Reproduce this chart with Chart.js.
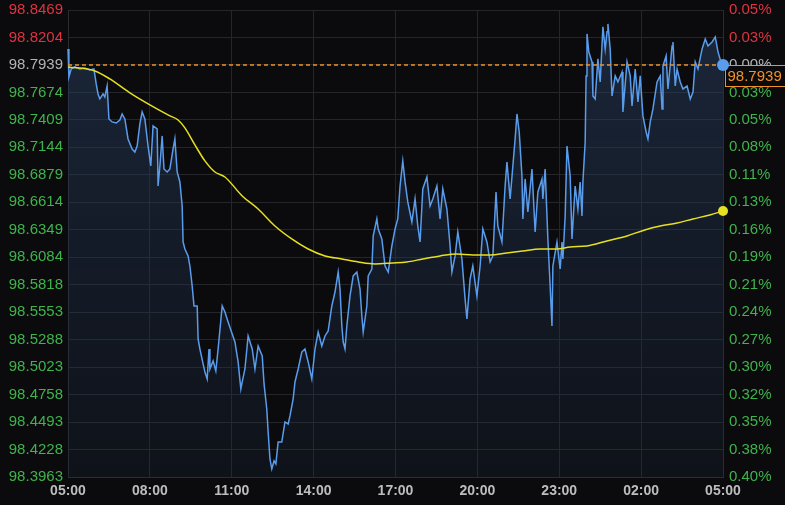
<!DOCTYPE html>
<html>
<head>
<meta charset="utf-8">
<script src="https://cdn.jsdelivr.net/npm/chart.js@4.4.1/dist/chart.umd.min.js"></script>
<style>
  html, body { margin: 0; padding: 0; background: #0b0b0d; }
  #wrap { width: 785px; height: 505px; }
</style>
</head>
<body>
<div id="wrap"><canvas id="chart" width="785" height="505"></canvas></div>
<script>
const REF_PRICE = 98.7939;

const Y_TICKS = [98.8469, 98.8204, 98.7939, 98.7674, 98.7409, 98.7144, 98.6879, 98.6614, 98.6349,
  98.6084, 98.5818, 98.5553, 98.5288, 98.5023, 98.4758, 98.4493, 98.4228, 98.3963];
const PCT_LABELS = ["0.05%", "0.03%", "0.00%", "0.03%", "0.05%", "0.08%", "0.11%", "0.13%", "0.16%",
  "0.19%", "0.21%", "0.24%", "0.27%", "0.30%", "0.32%", "0.35%", "0.38%", "0.40%"];

// minutes after 05:00
const X_TICKS = [0, 180, 360, 540, 720, 900, 1080, 1260, 1440];
const X_LABELS = ["05:00", "08:00", "11:00", "14:00", "17:00", "20:00", "23:00", "02:00", "05:00"];

const PRICE_MIN = [0,2,7,15,26,37,48,57,62,66,70,77,81,86,90,97,106,114,119,125,132,141,147,152,158,163,169,176,182,187,
  196,198,202,207,211,218,224,231,235,240,246,251,253,257,264,268,273,277,284,286,290,297,301,306,310,312,319,325,330,339,345,
  352,361,367,374,380,383,389,396,405,411,418,427,431,437,440,444,448,453,457,462,470,477,484,488,495,499,506,514,521,528,
  536,543,550,558,565,572,580,587,594,598,602,605,609,613,620,627,635,642,646,649,657,660,668,671,679,682,690,697,704,712,719,725,
  730,736,741,747,756,763,769,774,780,789,796,802,811,818,824,833,840,844,851,857,866,873,877,884,890,899,906,912,921,928,
  934,941,945,954,961,965,972,978,983,987,992,998,1000,1005,1011,1020,1027,1033,1042,1044,1049,1055,1060,1064,1066,1075,1082,1086,1088,1093,1097,1104,
  1108,1115,1121,1126,1130,1132,1137,1139,1141,1145,1152,1154,1159,1165,1170,1176,1181,1185,1187,1192,
  1196,1203,1209,1218,1220,1229,1236,1240,1247,1253,1258,1264,1271,1275,1280,1286,1295,1302,1306,1308,
  1315,1319,1328,1330,1335,1339,1346,1352,1361,1368,1374,1379,1385,1394,1401,1407,1416,1423,1429,1438,1440];

const PRICE = [
  98.8093,98.7823,98.7900,98.7920,98.7900,98.7910,98.7891,98.7900,98.7756,98.7659,
  98.7611,98.7659,98.7630,98.7736,98.7418,98.7389,98.7379,98.7408,98.7466,98.7418,
  98.7225,98.7128,98.7099,98.7157,98.7370,98.7485,98.7418,98.7157,98.6964,98.7350,
  98.7321,98.6771,98.6964,98.7254,98.6935,98.6906,98.6935,98.7128,98.7225,98.6906,
  98.6810,98.6578,98.6231,98.6163,98.6096,98.5999,98.5806,98.5613,98.5613,98.5295,
  98.5198,98.5054,98.4976,98.4909,98.5198,98.5005,98.5083,98.4986,98.5198,98.5613,98.5555,
  98.5459,98.5343,98.5266,98.5073,98.4812,98.4880,98.5005,98.5324,98.5198,98.5005,
  98.5227,98.5131,98.4861,98.4619,98.4397,98.4137,98.4040,98.4118,98.4089,98.4301,
  98.4301,98.4494,98.4475,98.4552,98.4716,98.4880,98.5005,98.5169,98.5198,98.5073,
  98.4909,98.5198,98.5362,98.5227,98.5324,98.5372,98.5613,98.5748,98.5941,98.5777,
  98.5420,98.5266,98.5198,98.5420,98.5710,98.5903,98.5941,98.5777,98.5517,98.5362,
  98.5613,98.5903,98.5970,98.6289,98.6453,98.6356,98.6260,98.5999,98.5941,98.6192,98.6356,98.6453,
  98.6771,98.7013,98.6810,98.6617,98.6424,98.6646,98.6385,98.6231,98.6742,98.6858,
  98.6578,98.6646,98.6771,98.6453,98.6742,98.6549,98.6192,98.5941,98.6096,98.6327,
  98.6067,98.5681,98.5488,98.5874,98.5999,98.5710,98.5999,98.6356,98.6231,98.6038,
  98.6096,98.6713,98.6385,98.6231,98.6771,98.7003,98.6646,98.6964,98.7225,98.7466,
  98.7292,98.6868,98.6453,98.6839,98.6520,98.6935,98.6327,98.6713,98.6839,98.6646,
  98.6935,98.6260,98.5806,98.5420,98.5999,98.6231,98.5970,98.6231,98.6067,98.6482,98.7157,98.6868,
  98.6260,98.6771,98.6549,98.6810,98.6482,98.6810,98.7196,98.7833,98.8238,98.8065,
  98.7968,98.7640,98.7611,98.7997,98.7775,98.8306,98.8093,98.8258,98.8335,98.8093,
  98.7640,98.7833,98.7775,98.7871,98.7485,98.7968,98.7833,98.7543,98.7900,98.7582,
  98.7833,98.7447,98.7292,98.7225,98.7389,98.7514,98.7775,98.7833,98.7514,98.7929,
  98.8026,98.7707,98.8122,98.8161,98.7736,98.7900,98.7775,98.7707,98.7736,98.7611,
  98.7678,98.7968,98.7900,98.8093,98.8190,98.8122,98.8161,98.8209,98.8065,98.7929,98.7939];

const AVG_MIN = [0,59,92,136,180,224,242,257,279,301,323,345,383,418,455,492,528,565,602,638,
  675,712,745,780,818,855,890,928,965,1000,1038,1075,1104,1141,1185,1229,1268,1302,1339,1374,1411,1440];
const AVG = [98.7920,98.7881,98.7804,98.7669,98.7553,98.7447,98.7408,98.7331,98.7167,98.7013,
  98.6906,98.6858,98.6675,98.6549,98.6385,98.6260,98.6163,98.6096,98.6067,98.6038,
  98.6019,98.6028,98.6038,98.6067,98.6096,98.6115,98.6106,98.6106,98.6125,98.6144,
  98.6163,98.6163,98.6183,98.6192,98.6241,98.6289,98.6347,98.6385,98.6414,98.6453,98.6491,98.6530];

const FONT = "'Liberation Sans', Arial, sans-serif";
const BLUE = "#5a9cec";
const YELLOW = "#e6e022";
const ORANGE = "#f0922a";
const RED = "#df3340";
const GREEN = "#3fb34c";
const GREY = "#b4b4b4";
const GRID = "#252629";

function tickColor(v) {
  if (Math.abs(v - REF_PRICE) < 1e-6) return GREY;
  return v > REF_PRICE ? RED : GREEN;
}

const sortedTicks = Y_TICKS.slice().sort((a, b) => a - b);
const setYTicks = s => { s.ticks = sortedTicks.map(v => ({ value: v })); };
const fitY = w => s => { s.width = w; s.paddingTop = 0; s.paddingBottom = 0; };

// dashed reference line + price box
const refLine = {
  id: "refLine",
  beforeDatasetsDraw(chart) {
    const { ctx, chartArea, scales } = chart;
    const y = Math.round(scales.y.getPixelForValue(REF_PRICE)) + 0.5;
    ctx.save();
    const bx = Math.round(chartArea.right) + 2.5;
    ctx.strokeStyle = ORANGE;
    ctx.lineWidth = 1;
    ctx.fillStyle = "#0b0b0d";
    ctx.fillRect(bx, y, 70, 21);
    ctx.strokeRect(bx, y, 70, 21);
    ctx.fillStyle = ORANGE;
    ctx.font = "15px " + FONT;
    ctx.textBaseline = "middle";
    ctx.textAlign = "left";
    ctx.fillText(REF_PRICE.toFixed(4), bx + 2, y + 11);
    ctx.restore();
  },
  afterDatasetsDraw(chart) {
    const { ctx, chartArea, scales } = chart;
    const y = Math.round(scales.y.getPixelForValue(REF_PRICE));
    ctx.save();
    ctx.strokeStyle = ORANGE;
    ctx.lineWidth = 1.4;
    ctx.setLineDash([4, 3]);
    ctx.beginPath();
    ctx.moveTo(chartArea.left, y);
    ctx.lineTo(chartArea.right - 6, y);
    ctx.stroke();
    ctx.restore();
  }
};

new Chart(document.getElementById("chart"), {
  type: "line",
  data: {
    datasets: [
      {
        label: "avg",
        data: AVG_MIN.map((m, i) => ({ x: m, y: AVG[i] })),
        borderColor: YELLOW,
        borderWidth: 1.5,
        cubicInterpolationMode: "monotone",
        fill: false,
        clip: false,
        pointRadius: c => c.dataIndex === AVG.length - 1 ? 5 : 0,
        pointBackgroundColor: YELLOW,
        pointBorderWidth: 0,
        pointHoverRadius: 0,
      },
      {
        label: "price",
        data: PRICE_MIN.map((m, i) => ({ x: m, y: PRICE[i] })),
        borderColor: BLUE,
        borderWidth: 1.5,
        tension: 0,
        fill: "start",
        clip: false,
        backgroundColor: c => {
          const { ctx, chartArea } = c.chart;
          if (!chartArea) return "rgba(0,0,0,0)";
          const g = ctx.createLinearGradient(0, chartArea.top, 0, chartArea.bottom);
          g.addColorStop(0, "rgba(42,64,98,0.55)");
          g.addColorStop(1, "rgba(30,45,70,0.22)");
          return g;
        },
        pointRadius: c => c.dataIndex === PRICE.length - 1 ? 6 : 0,
        pointBackgroundColor: BLUE,
        pointBorderWidth: 0,
        pointHoverRadius: 0,
      },
    ],
  },
  options: {
    responsive: false,
    animation: false,
    events: [],
    layout: { padding: { top: 10, left: 0, right: 0, bottom: 0 } },
    plugins: { legend: { display: false }, tooltip: { enabled: false } },
    scales: {
      x: {
        type: "linear",
        min: 0,
        max: 1440,
        afterBuildTicks: s => { s.ticks = X_TICKS.map(v => ({ value: v })); },
        afterFit: s => { s.height = 28; },
        ticks: {
          autoSkip: false,
          maxRotation: 0,
          padding: 6,
          color: "#bdbdbd",
          font: { family: FONT, size: 14, weight: "bold" },
          callback: (v, i) => X_LABELS[i],
        },
        grid: { color: GRID, drawTicks: false },
        border: { color: "#2c2c30" },
      },
      y: {
        position: "left",
        min: Y_TICKS[Y_TICKS.length - 1],
        max: Y_TICKS[0],
        afterBuildTicks: setYTicks,
        afterFit: fitY(68),
        ticks: {
          autoSkip: false,
          padding: 5,
          color: c => tickColor(c.tick.value),
          font: { family: FONT, size: 15 },
          callback: v => v.toFixed(4),
        },
        grid: { color: GRID, drawTicks: false },
        border: { color: "#2c2c30" },
      },
      y1: {
        position: "right",
        min: Y_TICKS[Y_TICKS.length - 1],
        max: Y_TICKS[0],
        afterBuildTicks: setYTicks,
        afterFit: fitY(62),
        ticks: {
          autoSkip: false,
          padding: 6,
          color: c => tickColor(c.tick.value),
          font: { family: FONT, size: 15 },
          callback: v => PCT_LABELS[Y_TICKS.indexOf(v)],
        },
        grid: { display: false, drawTicks: false },
        border: { color: "#2c2c30" },
      },
    },
  },
  plugins: [refLine],
});
</script>
</body>
</html>
